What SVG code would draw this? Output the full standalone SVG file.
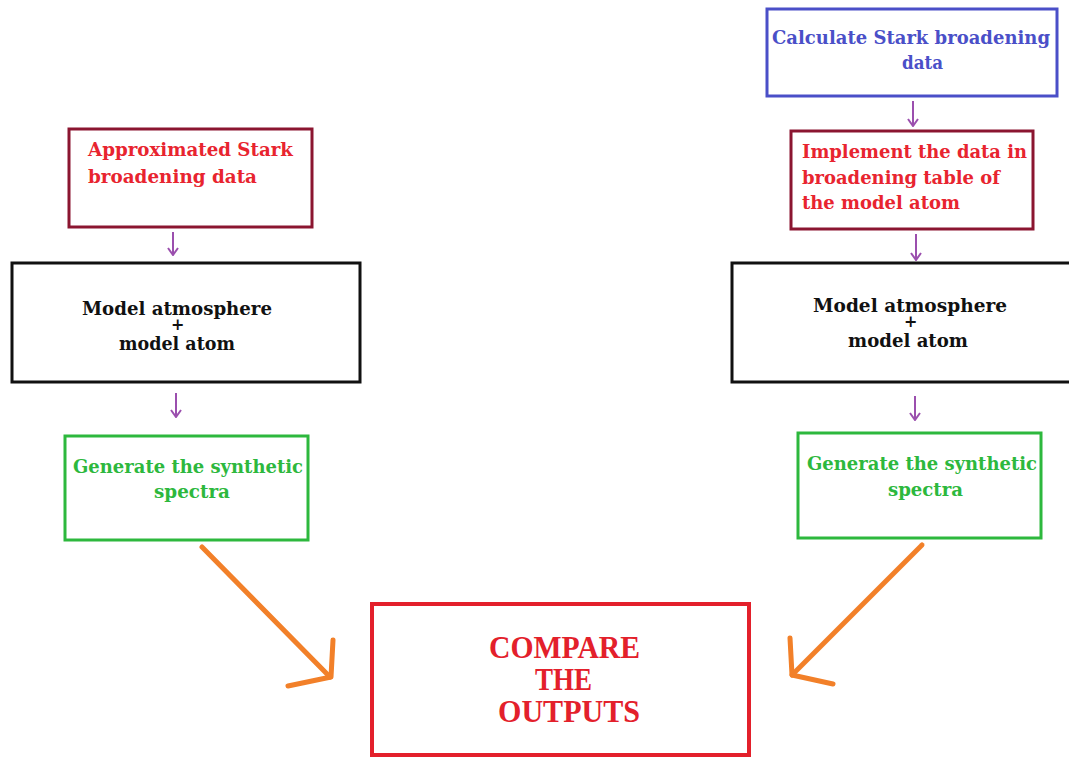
<svg xmlns="http://www.w3.org/2000/svg" width="1069" height="758" viewBox="0 0 1069 758">
<defs>
<style>
.slab{font-family:"DejaVu Serif","Liberation Serif",serif;font-weight:bold;font-size:19px}
.red{fill:#e8242f}
.blue{fill:#4a4fc8}
.green{fill:#2db83d}
.blk{fill:#111}
.cmp{font-family:"Liberation Serif","DejaVu Serif",serif;font-weight:bold;font-size:31px;fill:#e3202b}
.box{fill:#fff}
.purple{stroke:#9b4fae;stroke-width:2;fill:none}
.orange{stroke:#f28029;stroke-width:5;fill:none;stroke-linecap:round;stroke-linejoin:round}
</style>
<marker id="ph" viewBox="0 0 10 12" refX="9" refY="6" markerWidth="10" markerHeight="12" markerUnits="userSpaceOnUse" orient="auto">
<path d="M2,1 L9,6 L2,11" fill="none" stroke="#9b4fae" stroke-width="2"/>
</marker>
</defs>
<rect width="1069" height="758" fill="#fff"/>

<g id="approx">
<rect class="box" x="69" y="129" width="243" height="98" stroke="#8b1530" stroke-width="3"/>
<text class="slab red" x="88" y="156" textLength="205" lengthAdjust="spacingAndGlyphs">Approximated Stark</text>
<text class="slab red" x="88" y="183" textLength="169" lengthAdjust="spacingAndGlyphs">broadening data</text>
</g>

<g id="calc">
<rect class="box" x="767" y="9" width="290" height="87" stroke="#4a4fc8" stroke-width="3"/>
<text class="slab blue" x="772" y="44" textLength="278" lengthAdjust="spacingAndGlyphs">Calculate Stark broadening</text>
<text class="slab blue" x="902" y="69" textLength="41" lengthAdjust="spacingAndGlyphs">data</text>
</g>

<g id="implement">
<rect class="box" x="791" y="131" width="242" height="98" stroke="#8b1530" stroke-width="3"/>
<text class="slab red" x="802" y="158" textLength="225" lengthAdjust="spacingAndGlyphs">Implement the data in</text>
<text class="slab red" x="802" y="184" textLength="198" lengthAdjust="spacingAndGlyphs">broadening table of</text>
<text class="slab red" x="802" y="209" textLength="158" lengthAdjust="spacingAndGlyphs">the model atom</text>
</g>

<g id="model-left">
<rect class="box" x="12" y="263" width="348" height="119" stroke="#111" stroke-width="3"/>
<text class="slab blk"><tspan x="82" y="315" textLength="190" lengthAdjust="spacingAndGlyphs">Model atmosphere</tspan><tspan x="171" y="330" font-size="16">+</tspan><tspan x="119" y="350" textLength="116" lengthAdjust="spacingAndGlyphs">model atom</tspan></text>
</g>

<g id="model-right">
<rect class="box" x="732" y="263" width="340" height="119" stroke="#111" stroke-width="3"/>
<text class="slab blk"><tspan x="813" y="312" textLength="194" lengthAdjust="spacingAndGlyphs">Model atmosphere</tspan><tspan x="904" y="327" font-size="16">+</tspan><tspan x="848" y="347" textLength="120" lengthAdjust="spacingAndGlyphs">model atom</tspan></text>
</g>

<g id="gen-left">
<rect class="box" x="65" y="436" width="243" height="104" stroke="#2db83d" stroke-width="3"/>
<text class="slab green" x="73" y="473" textLength="230" lengthAdjust="spacingAndGlyphs">Generate the synthetic</text>
<text class="slab green" x="154" y="498" textLength="76" lengthAdjust="spacingAndGlyphs">spectra</text>
</g>

<g id="gen-right">
<rect class="box" x="798" y="433" width="243" height="105" stroke="#2db83d" stroke-width="3"/>
<text class="slab green" x="807" y="470" textLength="230" lengthAdjust="spacingAndGlyphs">Generate the synthetic</text>
<text class="slab green" x="888" y="496" textLength="75" lengthAdjust="spacingAndGlyphs">spectra</text>
</g>

<g id="compare">
<rect class="box" x="372" y="604" width="377" height="151" stroke="#e3202b" stroke-width="4"/>
<text class="cmp" x="489" y="658" textLength="151" lengthAdjust="spacingAndGlyphs">COMPARE</text>
<text class="cmp" x="535" y="690" textLength="57" lengthAdjust="spacingAndGlyphs">THE</text>
<text class="cmp" x="498" y="722" textLength="142" lengthAdjust="spacingAndGlyphs">OUTPUTS</text>
</g>

<g id="connectors">
<line class="purple" x1="173" y1="232" x2="173" y2="255" marker-end="url(#ph)"/>
<line class="purple" x1="176" y1="393" x2="176" y2="417" marker-end="url(#ph)"/>
<line class="purple" x1="913" y1="101" x2="913" y2="126" marker-end="url(#ph)"/>
<line class="purple" x1="916" y1="234" x2="916" y2="260" marker-end="url(#ph)"/>
<line class="purple" x1="915" y1="396" x2="915" y2="420" marker-end="url(#ph)"/>
<path class="orange" d="M202,547 L330,677"/>
<path class="orange" d="M333,640 L331,677 L288,686"/>
<path class="orange" d="M922,545 L792,675"/>
<path class="orange" d="M790,638 L792,675 L833,684"/>
</g>
</svg>
